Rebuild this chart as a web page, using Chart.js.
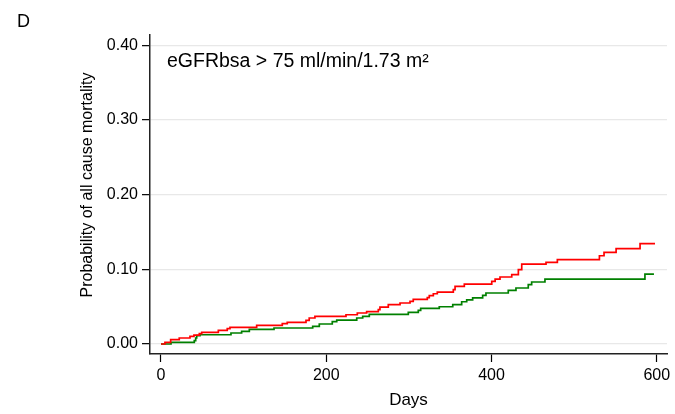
<!DOCTYPE html>
<html>
<head>
<meta charset="utf-8">
<script src="https://cdn.jsdelivr.net/npm/chart.js@4.4.0/dist/chart.umd.min.js"></script>
<style>
  html, body { margin: 0; padding: 0; background: #fff; }
</style>
</head>
<body>
<canvas id="kmChart" width="675" height="414"></canvas>
<script>
// step curves (day of step, probability from that day on)
const redDays = [0, 4.8, 11.7, 22.1, 35.1, 39.9, 46.4, 49.3, 69.4, 80.2, 83.5, 115.8, 146.8, 152.8, 175.5, 179.4, 186.3,
  223.9, 237.6, 248.9, 263, 265, 275.1, 289.3, 301.4, 305.3, 322.3, 324.7, 329.6, 334.4, 353.8, 355.9, 367.1,
  400.3, 404.4, 410.3, 424.5, 432.5, 436.6, 466, 479.7, 530.6, 536.2, 550.8, 579.8, 597.9];
const redProb = [0, 0.0021, 0.0058, 0.0080, 0.0102, 0.0120, 0.0138, 0.0155, 0.0182, 0.0205, 0.0222, 0.0249, 0.0272, 0.0289, 0.0316, 0.0348, 0.0369,
  0.0392, 0.0415, 0.0433, 0.0460, 0.0495, 0.0526, 0.0549, 0.0570, 0.0597, 0.0620, 0.0647, 0.0673, 0.0696, 0.0727, 0.0771, 0.0803,
  0.0838, 0.0870, 0.0897, 0.0928, 0.0995, 0.1071, 0.1092, 0.1129, 0.1182, 0.1226, 0.1276, 0.1343, 0.1343];

const greenDays = [0, 12.1, 40.3, 42, 43.2, 47.2, 84.7, 97.6, 106.9, 136.8, 183.6, 191.6, 207.3, 212.7, 236.9, 244.1, 252.1,
  299.3, 311.4, 314.3, 336.8, 353.1, 363.9, 370, 377.2, 389.3, 393.3, 420.3, 429.6, 444.5, 448.6, 464.7, 585.7, 596.6];
const greenProb = [0, 0.0021, 0.0044, 0.0080, 0.0111, 0.0124, 0.0147, 0.0169, 0.0196, 0.0214, 0.0236, 0.0268, 0.0299, 0.0321, 0.0348, 0.0370, 0.0396,
  0.0423, 0.0450, 0.0477, 0.0499, 0.0526, 0.0566, 0.0592, 0.0619, 0.0651, 0.0683, 0.0718, 0.0750, 0.0794, 0.0830, 0.0870, 0.0937, 0.0937];

const xTicks = [0, 200, 400, 600];
const yTicks = [0, 0.1, 0.2, 0.3, 0.4];

const panelLabel = 'D';
const noteText = 'eGFRbsa > 75 ml/min/1.73 m²';
const xTitle = 'Days';
const yTitle = 'Probability of all cause mortality';

const fam = '"Liberation Sans", Arial, sans-serif';

const toPoints = (xs, ys) => xs.map((d, i) => ({ x: d, y: ys[i] }));

const textPlugin = {
  id: 'texts',
  afterDraw(chart) {
    const ctx = chart.ctx;
    const area = chart.chartArea;
    ctx.save();
    ctx.fillStyle = '#000';
    ctx.textBaseline = 'alphabetic';
    ctx.font = '18px ' + fam;
    ctx.fillText(panelLabel, 17, 27);
    ctx.font = '19.5px ' + fam;
    ctx.fillText(noteText, 167, 66.5);
    ctx.font = '17px ' + fam;
    ctx.textAlign = 'center';
    ctx.fillText(xTitle, (area.left + area.right) / 2, 405);
    ctx.font = '16px ' + fam;
    ctx.translate(88, 185);
    ctx.rotate(-Math.PI / 2);
    ctx.textBaseline = 'middle';
    ctx.fillText(yTitle, 0, 0);
    ctx.restore();
  }
};

new Chart(document.getElementById('kmChart'), {
  type: 'line',
  data: {
    datasets: [
      {
        label: 'red',
        data: toPoints(redDays, redProb),
        borderColor: '#ff0000',
        borderWidth: 1.7,
        stepped: 'before', // horizontal first, then up at the event day
        pointRadius: 0,
        fill: false
      },
      {
        label: 'green',
        data: toPoints(greenDays, greenProb),
        borderColor: '#008000',
        borderWidth: 1.7,
        stepped: 'before',
        pointRadius: 0,
        fill: false
      }
    ]
  },
  options: {
    responsive: false,
    animation: false,
    layout: { padding: { top: 34.5, right: 8, left: 0, bottom: 0 } },
    plugins: {
      legend: { display: false },
      tooltip: { enabled: false }
    },
    scales: {
      x: {
        type: 'linear',
        min: -13.3,
        max: 612.4,
        afterBuildTicks: s => { s.ticks = xTicks.map(v => ({ value: v })); },
        afterFit: s => { s.height = 60; },
        grid: { drawOnChartArea: false, tickLength: 8, tickColor: '#000', tickWidth: 1.2 },
        border: { color: '#222', width: 1.5 },
        ticks: { color: '#000', font: { size: 16, family: fam }, padding: 4, maxRotation: 0 }
      },
      y: {
        type: 'linear',
        min: -0.0134,
        max: 0.4145,
        afterBuildTicks: s => { s.ticks = yTicks.map(v => ({ value: v })); },
        afterFit: s => { s.width = 150; },
        grid: { color: '#e8e8e8', lineWidth: 1.3, tickLength: 8, tickColor: '#000', tickWidth: 1.2 },
        border: { color: '#222', width: 1.5 },
        ticks: { color: '#000', font: { size: 16, family: fam }, padding: 4, callback: v => v.toFixed(2) }
      }
    }
  },
  plugins: [textPlugin]
});
</script>
</body>
</html>
